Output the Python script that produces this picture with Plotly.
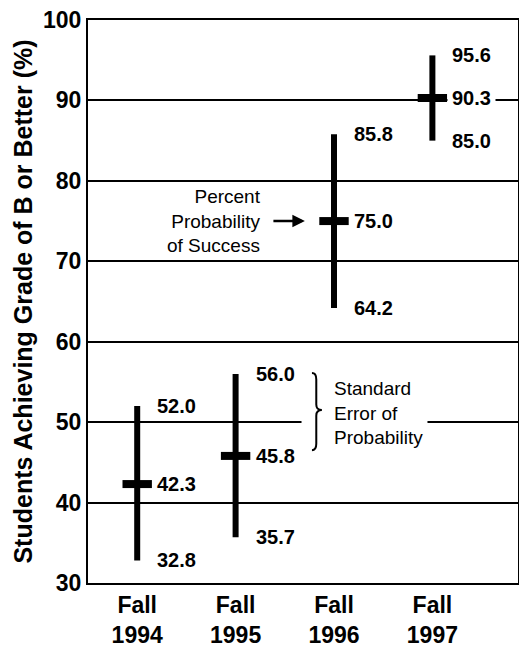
import plotly.graph_objects as go

categories = ["Fall<br>1994", "Fall<br>1995", "Fall<br>1996", "Fall<br>1997"]
prob = [42.3, 45.8, 75.0, 90.3]
upper = [52.0, 56.0, 85.8, 95.6]
lower = [32.8, 35.7, 64.2, 85.0]
y_ticks = [30, 40, 50, 60, 70, 80, 90, 100]

xs = list(range(len(categories)))
FONT = "Arial, Liberation Sans, sans-serif"

fig = go.Figure()
fig.add_trace(go.Scatter(
    x=xs, y=prob, mode="markers",
    marker=dict(symbol="line-ew", size=21, color="black",
                line=dict(width=8, color="black")),
    error_y=dict(type="data", symmetric=False,
                 array=[u - p for u, p in zip(upper, prob)],
                 arrayminus=[p - l for p, l in zip(prob, lower)],
                 thickness=6, width=0, color="black"),
    showlegend=False, hoverinfo="skip",
))

annotations = []
lab_font = dict(family=FONT, size=20, color="black", weight="bold")
for i, (p, u, l) in enumerate(zip(prob, upper, lower)):
    for v in (u, p, l):
        annotations.append(dict(
            x=i, y=v, xref="x", yref="y", text=f"{v:.1f}", showarrow=False,
            xanchor="left", yanchor="middle", xshift=15, font=lab_font,
            bgcolor="white" if v == p and i == 3 else None,
            borderpad=4,
        ))

note_font = dict(family=FONT, size=19, color="black")
annotations.append(dict(
    x=1.277, y=75.0, xref="x", yref="y",
    text="Percent<br>Probability<br>of Success", showarrow=False,
    xanchor="right", yanchor="middle", align="right", font=note_font,
))
annotations.append(dict(
    x=1.704, y=75.0, xref="x", yref="y", ax=1.369, ay=75.0,
    axref="x", ayref="y", text="", showarrow=True,
    arrowhead=2, arrowsize=1, arrowwidth=2.5, arrowcolor="black",
))
annotations.append(dict(
    x=1.979, y=51.1, xref="x", yref="y",
    text="Standard<br>Error of<br>Probability", showarrow=False,
    xanchor="left", yanchor="middle", align="left", font=note_font,
))

shapes = [
    dict(type="rect", xref="x", yref="y", x0=1.67, x1=2.95, y0=49.5, y1=50.5,
         fillcolor="white", line=dict(width=0), layer="between"),
    dict(type="path", xref="x", yref="y", layer="above",
         path="M 1.776,56.1 Q 1.82,56.1 1.82,55.3 L 1.82,52.2 Q 1.82,51.5 1.877,51.5 "
              "Q 1.82,51.5 1.82,50.8 L 1.82,47.3 Q 1.82,46.5 1.776,46.5",
         line=dict(color="black", width=2)),
]

fig.update_layout(
    width=519, height=638,
    margin=dict(l=80, r=9, t=12, b=63),
    paper_bgcolor="white", plot_bgcolor="white",
    annotations=annotations, shapes=shapes,
    xaxis=dict(range=[-0.5, 3.87], tickvals=xs, ticktext=categories,
               automargin=False, ticklabeloverflow="allow",
               showgrid=False, zeroline=False, showline=True, mirror=True,
               linecolor="black", linewidth=2, ticks="",
               tickfont=dict(family=FONT, size=23, color="black", weight="bold")),
    yaxis=dict(range=[30, 100], tickvals=y_ticks, showgrid=True,
               automargin=False, ticklabeloverflow="allow",
               gridcolor="black", gridwidth=2, zeroline=False,
               showline=True, mirror=True, linecolor="black", linewidth=2,
               ticks="", ticklabelstandoff=0,
               tickfont=dict(family=FONT, size=23, color="black", weight="bold"),
               title=dict(text="Students Achieving Grade of B or Better (%)",
                          font=dict(family=FONT, size=25, color="black", weight="bold"),
                          standoff=3)),
)

fig.write_html("out.html")
